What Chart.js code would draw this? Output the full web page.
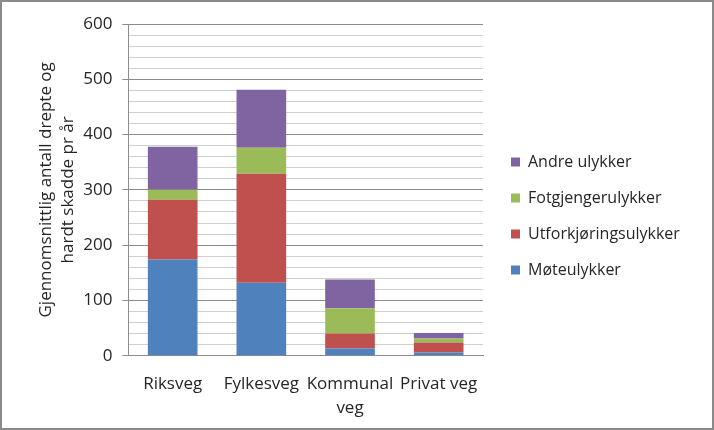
<!DOCTYPE html>
<html>
<head>
<meta charset="utf-8">
<script src="https://cdn.jsdelivr.net/npm/chart.js@4"></script>
<style>
  html, body { margin: 0; padding: 0; background: #fff; }
  #wrap { width: 714px; height: 430px; box-sizing: border-box; border: 2px solid #8a8a8a; position: relative; }
</style>
</head>
<body>
<div id="wrap"><canvas id="myChart" width="710" height="426"></canvas></div>
<script>
const categories = ['Riksveg', 'Fylkesveg', ['Kommunal', 'veg'], 'Privat veg'];
const moteulykker = [174, 132, 13, 6];
const utforkjoring = [108, 197, 27, 18];
const fotgjenger = [18, 47, 46, 7];
const andre = [78, 105, 52, 10];
const yTicks = [0, 100, 200, 300, 400, 500, 600];

const font = '"Open Sans", "Liberation Sans", sans-serif';
const ctx = document.getElementById('myChart');

// legend gets a fixed width, and is nudged after layout
const legendBox = {
    id: 'legendBox',
    beforeLayout(chart) {
        const lg = chart.legend;
        if (lg && !lg._fixed) {
            const fit = lg.fit.bind(lg);
            lg.fit = function () { fit(); this.width = 229; };
            lg._fixed = true;
        }
    },
    afterLayout(chart) {
        const lg = chart.legend;
        lg.left += 8;
        lg.right += 8;
        lg.top -= 10;
        lg.bottom -= 10;
    }
};

new Chart(ctx, {
    type: 'bar',
    data: {
        labels: categories,
        datasets: [
            { label: 'Møteulykker', data: moteulykker, backgroundColor: '#4f81bd' },
            { label: 'Utforkjøringsulykker', data: utforkjoring, backgroundColor: '#c0504d' },
            { label: 'Fotgjengerulykker', data: fotgjenger, backgroundColor: '#9bbb59' },
            { label: 'Andre ulykker', data: andre, backgroundColor: '#8064a2' },
        ]
    },
    plugins: [legendBox],
    options: {
        responsive: false,
        animation: false,
        layout: { padding: { top: 22, left: 27, right: 0, bottom: 0 } },
        datasets: { bar: { categoryPercentage: 1, barPercentage: 0.56 } },
        plugins: {
            tooltip: { enabled: false },
            legend: {
                position: 'right',
                reverse: true,
                labels: {
                    boxWidth: 9,
                    boxHeight: 9,
                    padding: 20,
                    color: '#262626',
                    font: { family: font, size: 16 }
                }
            }
        },
        scales: {
            x: {
                stacked: true,
                grid: { display: false },
                border: { display: true, color: '#8c8c8c' },
                ticks: { autoSkip: false, color: '#262626', font: { family: font, size: 17, lineHeight: 1.42 }, maxRotation: 0, padding: 8 }
            },
            y: {
                stacked: true,
                min: 0,
                max: 600,
                afterBuildTicks: (axis) => {
                    const t = [];
                    for (let v = 0; v <= 600; v += 20) t.push({ value: v });
                    axis.ticks = t;
                },
                border: { display: true, color: '#8c8c8c' },
                grid: {
                    color: (c) => (c.tick && c.tick.value % 100 === 0) ? '#8c8c8c' : '#cfcfcf',
                    tickColor: (c) => (c.tick && c.tick.value % 100 === 0) ? '#8c8c8c' : 'rgba(0,0,0,0)',
                    tickLength: 6
                },
                ticks: {
                    autoSkip: false,
                    color: '#262626',
                    padding: 10,
                    font: { family: font, size: 17 },
                    callback: (v) => yTicks.includes(v) ? String(v) : ''
                },
                title: {
                    display: true,
                    text: ['Gjennomsnittlig antall drepte og', 'hardt skadde pr år'],
                    color: '#262626',
                    font: { family: font, size: 17, lineHeight: 1.3 },
                    padding: { top: 6, bottom: -6 }
                }
            }
        }
    }
});
</script>
</body>
</html>
